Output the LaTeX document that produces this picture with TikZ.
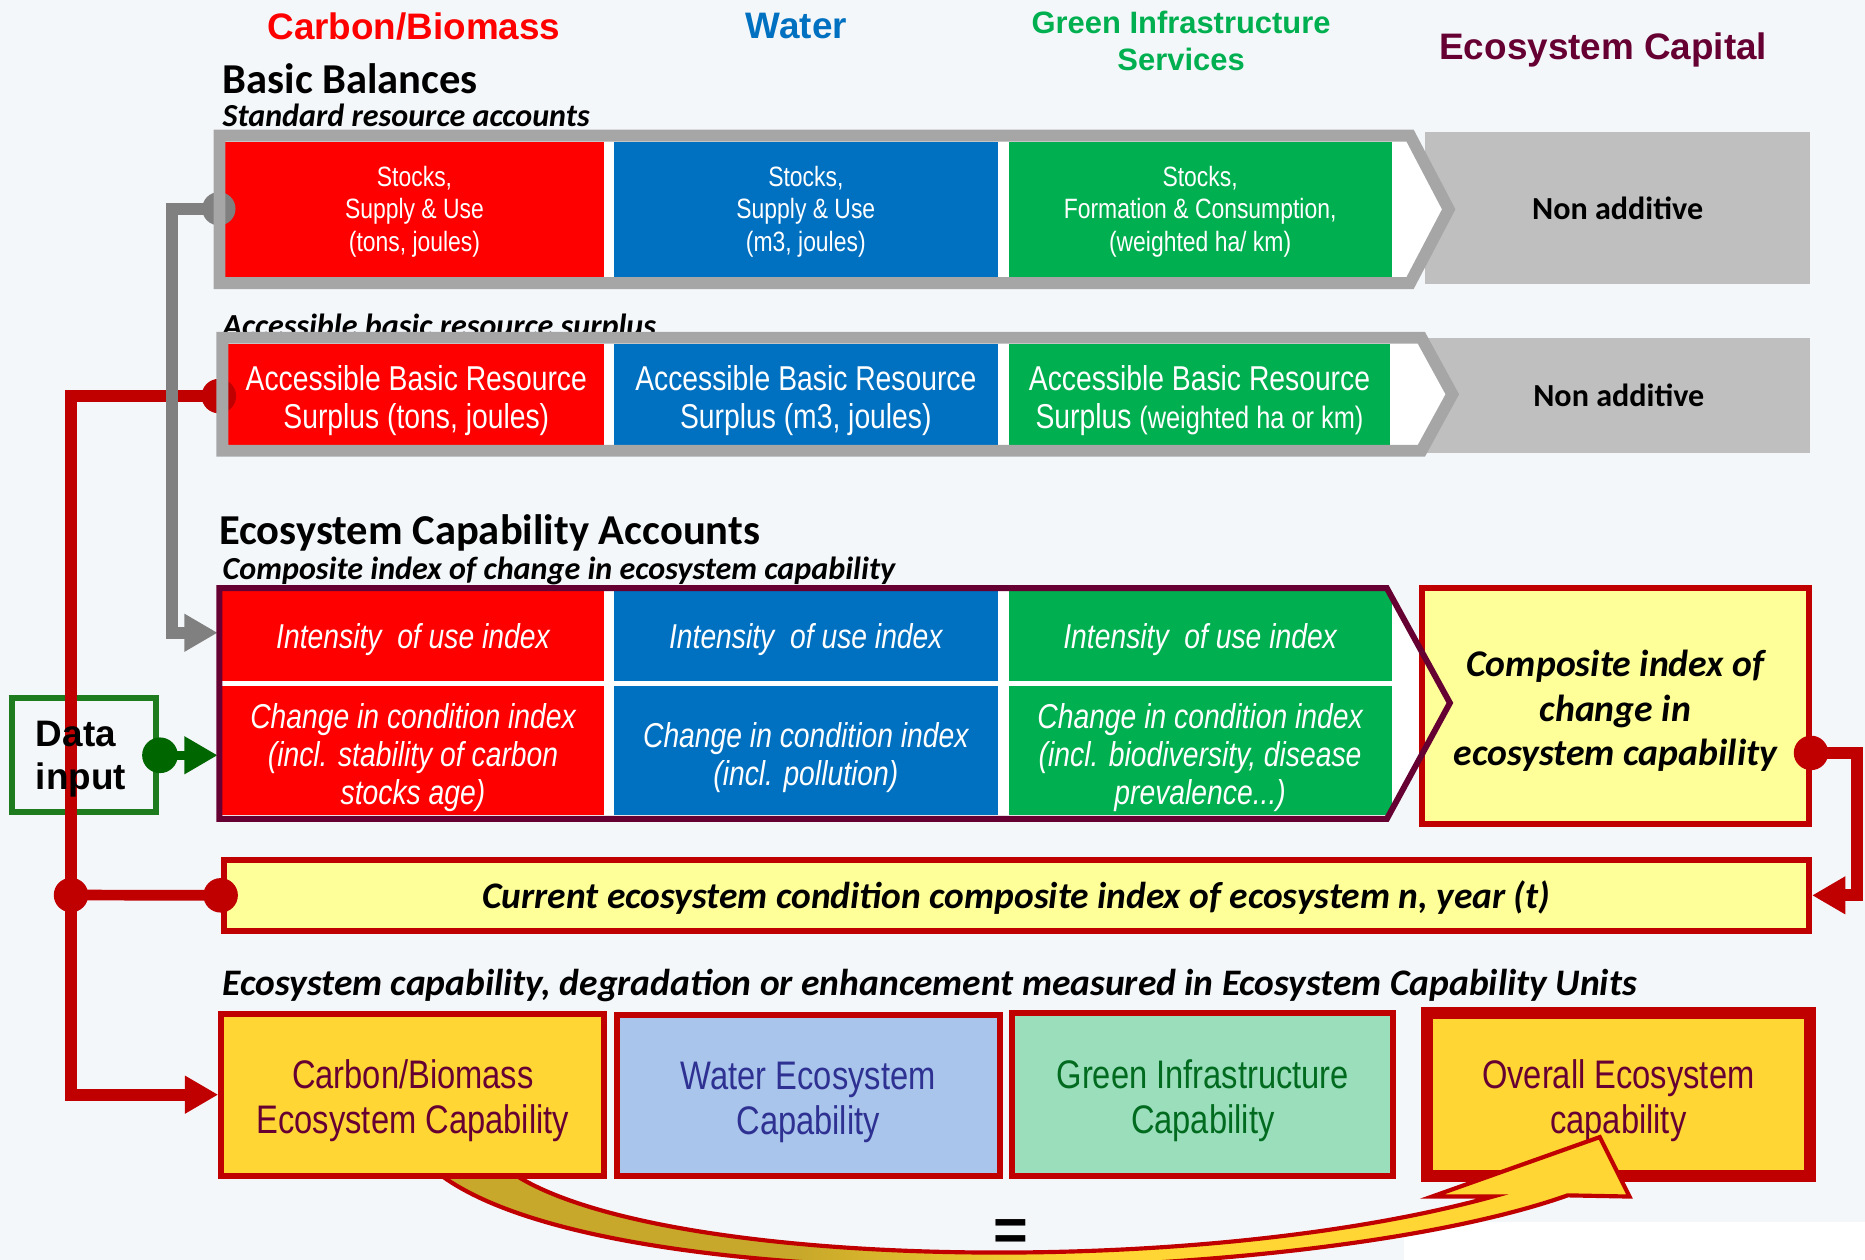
\documentclass[tikz,border=0pt]{standalone}
\usepackage{fontspec}
\setmainfont{Carlito}
\newfontfamily\arialfont{Liberation Sans}
\newfontfamily\narrowfont[FakeStretch=0.82]{Liberation Sans}
\usetikzlibrary{arrows.meta}

\definecolor{bgcol}{HTML}{F4F7FA}
\definecolor{cbred}{HTML}{FF0000}
\definecolor{wblue}{HTML}{0070C0}
\definecolor{gigreen}{HTML}{00B050}
\definecolor{ecmaroon}{HTML}{660033}
\definecolor{darkred}{HTML}{C00000}
\definecolor{paleyellow}{HTML}{FFFF99}
\definecolor{gold}{HTML}{FFD633}
\definecolor{olivegold}{HTML}{C8A82A}
\definecolor{paleblue}{HTML}{A9C5EB}
\definecolor{mint}{HTML}{9BDEBC}
\definecolor{framegray}{HTML}{A6A6A6}
\definecolor{nagray}{HTML}{BFBFBF}
\definecolor{linkgray}{HTML}{808080}
\definecolor{datagreen}{HTML}{1E7B1E}
\definecolor{knobgreen}{HTML}{006600}
\definecolor{navytext}{HTML}{2E3192}
\definecolor{deepgreen}{HTML}{006A1E}

\pgfdeclarehorizontalshading{arrowshade}{100bp}{color(0bp)=(olivegold); color(40bp)=(olivegold); color(52bp)=(gold); color(100bp)=(gold)}

\pgfdeclarelayer{backdrop}
\pgfdeclarelayer{links}
\pgfdeclarelayer{rims}
\pgfsetlayers{backdrop,links,main,rims}

% zero-width strut that lowers a multi-line text block inside its box
\newcommand\dropline[1]{\rule{0pt}{#1}}

\tikzset{
  hdr/.style={font=\arialfont\bfseries\fontsize{31}{36}\selectfont, anchor=base, inner sep=0},
  hdrsm/.style={font=\arialfont\bfseries\fontsize{26}{31}\selectfont, anchor=base, inner sep=0},
  ttl/.style={font=\bfseries\fontsize{35.8}{40}\selectfont, anchor=base west, inner sep=0},
  subttl/.style={font=\bfseries\itshape\fontsize{27}{32}\selectfont, anchor=base west, inner sep=0},
  push/.style={execute at begin node={\rule{0pt}{#1}}},
  cell/.style={fill=#1, text=white, inner sep=0, align=center},
  bb/.style={font=\narrowfont\fontsize{23.5}{27}\selectfont},
  acc/.style={font=\narrowfont\fontsize{29}{32}\selectfont},
  idx/.style={font=\narrowfont\itshape\fontsize{29}{32}\selectfont},
  nonadd/.style={fill=nagray, inner sep=0, font=\bfseries\fontsize{27}{32}\selectfont},
  capbox/.style={draw=darkred, line width=5pt, fill=#1, inner sep=0, align=center,
    font=\narrowfont\fontsize{33.5}{38}\selectfont},
  knob/.style={circle, fill=#1, inner sep=0, minimum size=29pt},
  tipbig/.style={-{Triangle[length=28pt 0 0, width=30pt 0 0]}},
  rlink/.style={draw=darkred, line width=10pt},
  glink/.style={draw=linkgray, line width=10pt},
}

\begin{document}
\begin{tikzpicture}[x=1pt, y=-1pt]
\useasboundingbox (0,0) rectangle (1568,1059);

\begin{pgfonlayer}{backdrop}
  \fill[bgcol] (0,0) rectangle (1568,1059);
  \fill[white] (1180,1027) rectangle (1568,1059);
  \node[draw=datagreen, line width=5pt, minimum width=121pt, minimum height=95.5pt, inner sep=0] (din) at (70.6,634.8) {};
\end{pgfonlayer}

% column headings
\node[hdr, text=cbred] (hcb) at (348,33) {Carbon/Biomass};
\node[hdr, text=wblue] (hw) at (669.5,32.5) {Water};
\node[hdrsm, text=gigreen] (hgi1) at (993,28) {Green Infrastructure};
\node[hdrsm, text=gigreen] (hgi2) at (993,59.4) {Services};
\node[hdr, text=ecmaroon] (hec) at (1348,50) {Ecosystem Capital};

% section titles
\node[ttl] (tbb) at (187,78.5) {Basic Balances};
\node[subttl] (tsr) at (187,106.5) {Standard resource accounts};
\node[subttl] (tab) at (187,283) {Accessible basic resource surplus};
\node[ttl] (tec) at (184,458) {Ecosystem Capability Accounts};
\node[subttl] (tci) at (187,487.6) {Composite index of change in ecosystem capability};
\node[subttl, font=\bfseries\itshape\fontsize{31.5}{35}\selectfont] (tcu) at (187,836.6) {Ecosystem capability, degradation or enhancement measured in Ecosystem Capability Units};

% row 1: basic balances
\node[nonadd, minimum width=324pt, minimum height=128pt] (na1) at (1360,175) {Non additive};
\fill[white] (184.5,114) -- (1185.5,114) -- (1218,176) -- (1185.5,238) -- (184.5,238) -- cycle;
\node[cell=cbred, bb, minimum width=319pt, minimum height=114pt] (b1) at (348.5,176) {\dropline{21pt}Stocks,\\Supply \& Use\\(tons, joules)};
\node[cell=wblue, bb, minimum width=323pt, minimum height=114pt] (b2) at (677.5,176) {\dropline{21pt}Stocks,\\Supply \& Use\\(m3, joules)};
\node[cell=gigreen, bb, minimum width=322pt, minimum height=114pt] (b3) at (1009,176) {\dropline{21pt}Stocks,\\Formation \& Consumption,\\(weighted ha/ km)};
\node[knob=linkgray, minimum size=28pt] (k1) at (184,175.5) {};
\begin{pgfonlayer}{rims}
  \draw[framegray, line width=10pt, line join=miter] (184.5,114) -- (1185.5,114) -- (1218,176) -- (1185.5,238) -- (184.5,238) -- cycle;
\end{pgfonlayer}

% row 2: accessible surplus
\node[nonadd, minimum width=322pt, minimum height=97pt] (na2) at (1361,332.5) {Non additive};
\fill[white] (187,284) -- (1195,284) -- (1221,331.5) -- (1195,379) -- (187,379) -- cycle;
\node[cell=cbred, acc, minimum width=316pt, minimum height=86pt] (a1) at (350,332) {\dropline{31pt}Accessible Basic Resource\\Surplus (tons, joules)};
\node[cell=wblue, acc, minimum width=323pt, minimum height=86pt] (a2) at (677.5,332) {\dropline{31pt}Accessible Basic Resource\\Surplus (m3, joules)};
\node[cell=gigreen, acc, minimum width=321pt, minimum height=86pt] (a3) at (1008.5,332) {\dropline{31pt}Accessible Basic Resource\\Surplus {\fontsize{26}{32}\selectfont(weighted ha or km)}};
\node[knob=darkred] (k2) at (184,333) {};
\begin{pgfonlayer}{rims}
  \draw[framegray, line width=10pt, line join=miter] (187,284) -- (1195,284) -- (1221,331.5) -- (1195,379) -- (187,379) -- cycle;
\end{pgfonlayer}

% row 3: capability accounts
\fill[white] (184.5,494.5) -- (1166,494.5) -- (1219,591) -- (1166,688.5) -- (184.5,688.5) -- cycle;
\node[cell=cbred, idx, push=27pt, minimum width=321.5pt, minimum height=75.6pt] (i1) at (347.25,534.8) {Intensity\ \ of use index};
\node[cell=wblue, idx, push=27pt, minimum width=323pt, minimum height=75.6pt] (i2) at (677.5,534.8) {Intensity\ \ of use index};
\node[cell=gigreen, idx, push=27pt, minimum width=322pt, minimum height=75.6pt] (i3) at (1009,534.8) {Intensity\ \ of use index};
\node[cell=cbred, idx, minimum width=321.5pt, minimum height=108pt] (c1) at (347.25,631) {\dropline{33pt}Change in condition index\\(incl. stability of carbon\\stocks age)};
\node[cell=wblue, idx, minimum width=323pt, minimum height=108pt] (c2) at (677.5,631) {\dropline{33pt}Change in condition index\\(incl. pollution)};
\node[cell=gigreen, idx, minimum width=322pt, minimum height=108pt] (c3) at (1009,631) {\dropline{33pt}Change in condition index\\(incl. biodiversity, disease\\prevalence...)};
\begin{pgfonlayer}{rims}
  \draw[ecmaroon, line width=5pt, line join=miter] (184.5,494.5) -- (1166,494.5) -- (1219,591) -- (1166,688.5) -- (184.5,688.5) -- cycle;
\end{pgfonlayer}
\coordinate (r3in) at (183,532);
\coordinate (r3g) at (183,635);

\node[draw=darkred, line width=5pt, fill=paleyellow, minimum width=325pt, minimum height=198pt, inner sep=0, align=center,
      font=\bfseries\itshape\fontsize{31.7}{37.5}\selectfont] (comp) at (1358,593.5) {\dropline{31pt}Composite index of\\change in\\ecosystem capability};
\node[knob=darkred] (k3) at (1522.6,633) {};

% current condition bar
\node[draw=darkred, line width=5pt, fill=paleyellow, minimum width=1333pt, minimum height=59.5pt, inner sep=0, push=27.5pt,
      font=\bfseries\itshape\fontsize{31.5}{36}\selectfont] (bar) at (854.5,752.75) {Current ecosystem condition composite index of ecosystem n, year (t)};
\node[knob=darkred] (d1) at (59.7,752.5) {};
\node[knob=darkred] (d2) at (bar.west) {};

% data input
\node[knob=knobgreen, minimum size=30pt] (k4) at (134.5,635) {};
\node[font=\arialfont\bfseries\fontsize{31}{36.5}\selectfont, align=left, inner sep=0, anchor=west] (dtxt) at (30,638) {Data\\input};

% capability boxes
\node[capbox=gold, line width=10pt, minimum width=321.7pt, minimum height=137pt, text=ecmaroon] (ovr) at (1360.55,920.2) {\dropline{34.5pt}Overall Ecosystem\\capability};
\node[capbox=paleblue, minimum width=322pt, minimum height=135pt, text=navytext] (wat) at (679.5,921) {\dropline{34.5pt}Water Ecosystem\\Capability};
\node[capbox=mint, minimum width=320.5pt, minimum height=136.5pt, text=deepgreen] (grn) at (1011.25,920.25) {\dropline{34.5pt}Green Infrastructure\\Capability};

% summing arrow
\shadedraw[shading=arrowshade, draw=darkred, line width=3.5pt, line join=miter]
  (372,989) .. controls (520,1096) and (1100,1082) .. (1318,1005)
  -- (1370,1006) -- (1345,956) -- (1204,1006) -- (1255,1006)
  .. controls (1000,1076) and (560,1066) .. (435,989) -- cycle;

\node[capbox=gold, minimum width=322.2pt, minimum height=136.3pt, text=ecmaroon] (cb) at (347.1,920.35) {\dropline{34.5pt}Carbon/Biomass\\Ecosystem Capability};

\node[font=\arialfont\bfseries\fontsize{50}{50}\selectfont, inner sep=0] (eqs) at (850,1038) {=};

% connectors
\coordinate (rx) at (59.7,0);
\coordinate (rx2) at (1561,0);
\coordinate (gx) at (144.5,0);
\begin{pgfonlayer}{links}
  \draw[rlink, tipbig] (k2.center) -- (k2.center -| rx) |- (cb.west);
  \draw[rlink, line width=9pt] (d1.center) -- (d2.center);
  \draw[rlink, tipbig] (k3.center) -- (k3.center -| rx2) |- (bar.east);
  \draw[glink, tipbig] (k1.center) -- (k1.center -| gx) |- (r3in);
  \draw[draw=knobgreen, line width=8pt, tipbig] (k4.center) -- (r3g);
\end{pgfonlayer}
\end{tikzpicture}
\end{document}
